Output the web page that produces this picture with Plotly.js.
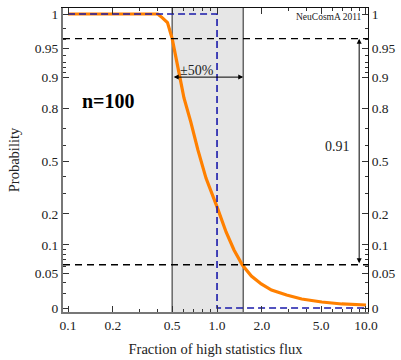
<!DOCTYPE html>
<html><head><meta charset="utf-8">
<script src="https://cdn.plot.ly/plotly-3.0.1.min.js"></script>
<style>html,body{margin:0;padding:0;background:#fff;}#chart{width:401px;height:360px;}</style>
</head><body><div id="chart"></div>
<script>
// ---- data ----
const fraction = [0.1, 0.2, 0.3, 0.36, 0.40, 0.43, 0.465, 0.50, 0.537, 0.563, 0.60, 0.667, 0.744, 0.843, 1.0, 1.15, 1.30, 1.48, 1.70, 1.98, 2.32, 2.93, 3.70, 5.05, 6.88, 10];
const probability = [1, 1, 1, 0.9995, 0.985, 0.977, 0.974, 0.961, 0.934, 0.90, 0.839, 0.735, 0.572, 0.39, 0.231, 0.135, 0.0886, 0.0616, 0.0469, 0.0384, 0.0329, 0.029, 0.0262, 0.0243, 0.0231, 0.0225];
const stepX = [0.1, 1, 1, 10];
const stepP = [1, 1, 0, 0];
const bandLo = 0.5, bandHi = 1.5;
const levelHi = 0.961, levelLo = 0.062;
const levelDiffLabel = '0.91';
const yTickP = [0, 0.05, 0.1, 0.2, 0.5, 0.8, 0.9, 0.95, 1];
const yTickText = ['0', '0.05', '0.1', '0.2', '0.5', '0.8', '0.9', '0.95', '1'];
const yMinorP = [0.01, 0.02, 0.03, 0.04, 0.06, 0.07, 0.08, 0.09, 0.3, 0.4, 0.6, 0.7, 0.91, 0.92, 0.93, 0.94, 0.96, 0.97];
const xTickVals = [0.1, 0.2, 0.5, 1, 2, 5, 10];
const xTickText = ['0.1', '0.2', '0.5', '1.0', '2.0', '5.0', '10.0'];
const xMinor = [0.3, 0.4, 0.6, 0.7, 0.8, 0.9, 3, 4, 6, 7, 8, 9];

// ---- probability axis scale (clipped logit) ----
const L = 3.85;
function T(p) {
  if (p <= 0) return -L;
  if (p >= 1) return L;
  const v = Math.log(p / (1 - p));
  return Math.max(-L, Math.min(L, v));
}
const unit = 2 * L / 294;
const yRange = [-L - 4 * unit, L + 6 * unit];
const xRange = [-1.034, 1.0135];
const xlo = Math.pow(10, xRange[0]), xhi = Math.pow(10, xRange[1]);

const FONT = 'Liberation Serif, Times New Roman, serif';

const traces = [
  { x: [bandLo, bandHi, bandHi, bandLo, bandLo], y: [yRange[0], yRange[0], yRange[1], yRange[1], yRange[0]],
    mode: 'lines', fill: 'toself', fillcolor: '#e6e6e6', line: { width: 0 }, hoverinfo: 'skip', showlegend: false },
  { x: [bandLo, bandLo], y: yRange, mode: 'lines', line: { color: '#666', width: 1.5 }, showlegend: false },
  { x: [bandHi, bandHi], y: yRange, mode: 'lines', line: { color: '#666', width: 1.5 }, showlegend: false },
  { x: fraction, y: probability.map(T), mode: 'lines', line: { color: '#ff8000', width: 3.2 }, showlegend: false },
  { x: stepX, y: stepP.map(T), mode: 'lines', line: { color: '#1a1aaa', width: 1.6, dash: '7px,4px' }, showlegend: false },
  { x: [xlo, xhi], y: [T(levelHi), T(levelHi)], mode: 'lines', line: { color: '#000', width: 1.4, dash: '7px,5px' }, showlegend: false },
  { x: [xlo, xhi], y: [T(levelLo), T(levelLo)], mode: 'lines', line: { color: '#000', width: 1.4, dash: '7px,5px' }, showlegend: false },
  { x: [1], y: [0], xaxis: 'x2', yaxis: 'y2', mode: 'markers', marker: { opacity: 0 }, showlegend: false, hoverinfo: 'skip' }
];

const yAxisCommon = {
  range: yRange, tickmode: 'array', tickvals: yTickP.map(T), ticktext: yTickText,
  ticks: 'inside', ticklen: 6, tickcolor: '#333', tickwidth: 1,
  minor: { tickmode: 'array', tickvals: yMinorP.map(T), ticks: 'inside', ticklen: 3, tickcolor: '#333' },
  showgrid: false, zeroline: false, showline: true,
  tickfont: { family: FONT, size: 13.5, color: '#222' }
};
const xAxisCommon = {
  type: 'log', range: xRange, tickmode: 'array', tickvals: xTickVals, ticktext: xTickText,
  ticks: 'inside', ticklen: 6, tickcolor: '#333', tickwidth: 1,
  minor: { tickmode: 'array', tickvals: xMinor, ticks: 'inside', ticklen: 3, tickcolor: '#333' },
  showgrid: false, zeroline: false, showline: true,
  tickfont: { family: FONT, size: 13.5, color: '#222' }
};

const layout = {
  width: 401, height: 360,
  margin: { l: 63, r: 33, t: 8, b: 48 },
  paper_bgcolor: '#fff', plot_bgcolor: '#fff',
  font: { family: FONT, color: '#222' },
  showlegend: false,
  xaxis: Object.assign({}, xAxisCommon, { linecolor: '#777', linewidth: 2,
    title: { text: 'Fraction of high statistics flux', font: { family: FONT, size: 14.5, color: '#222' }, standoff: 12 } }),
  xaxis2: Object.assign({}, xAxisCommon, { overlaying: 'x', side: 'top', showticklabels: false, linecolor: '#111', linewidth: 1 }),
  yaxis: Object.assign({}, yAxisCommon, { linecolor: '#777', linewidth: 2,
    title: { text: 'Probability', font: { family: FONT, size: 14.5, color: '#222' }, standoff: 12 } }),
  yaxis2: Object.assign({}, yAxisCommon, { overlaying: 'y', side: 'right', anchor: 'x', linecolor: '#111', linewidth: 1 }),
  annotations: [
    { xref: 'paper', yref: 'paper', x: (108 - 63) / 305, y: 1 - (101 - 8) / 304, text: '<b>n=100</b>', showarrow: false,
      font: { family: FONT, size: 20, color: '#000' }, xanchor: 'center', yanchor: 'middle' },
    { xref: 'paper', yref: 'paper', x: (364 - 63) / 305, y: 1 - (17 - 8) / 304, text: 'NeuCosmA 2011', showarrow: false,
      font: { family: FONT, size: 9.5, color: '#222' }, xanchor: 'right', yanchor: 'middle' },
    { xref: 'paper', yref: 'y', x: (197 - 63) / 305, y: T(0.9), text: '±50%', showarrow: false,
      font: { family: FONT, size: 14, color: '#222' }, xanchor: 'center', yanchor: 'bottom', yshift: -3 },
    { xref: 'x', yref: 'y', axref: 'x', ayref: 'y', x: Math.log10(bandHi), y: T(0.9), ax: Math.log10(bandLo), ay: T(0.9),
      text: '', showarrow: true, arrowhead: 2, startarrowhead: 2, arrowside: 'end+start', arrowsize: 1, startarrowsize: 1, arrowwidth: 1, arrowcolor: '#000' },
    { xref: 'x', yref: 'y', axref: 'x', ayref: 'y', x: Math.log10(9), y: T(levelHi), ax: Math.log10(9), ay: T(levelLo),
      text: '', showarrow: true, arrowhead: 2, startarrowhead: 2, arrowside: 'end+start', arrowsize: 1, startarrowsize: 1, arrowwidth: 1, arrowcolor: '#000' },
    { xref: 'x', yref: 'paper', x: Math.log10(9), y: 1 - (146 - 8) / 304, text: levelDiffLabel, showarrow: false,
      font: { family: FONT, size: 14, color: '#222' }, xanchor: 'right', xshift: -7, yanchor: 'middle' }
  ]
};

Plotly.newPlot('chart', traces, layout, { displayModeBar: false, staticPlot: true });
</script>
</body></html>
